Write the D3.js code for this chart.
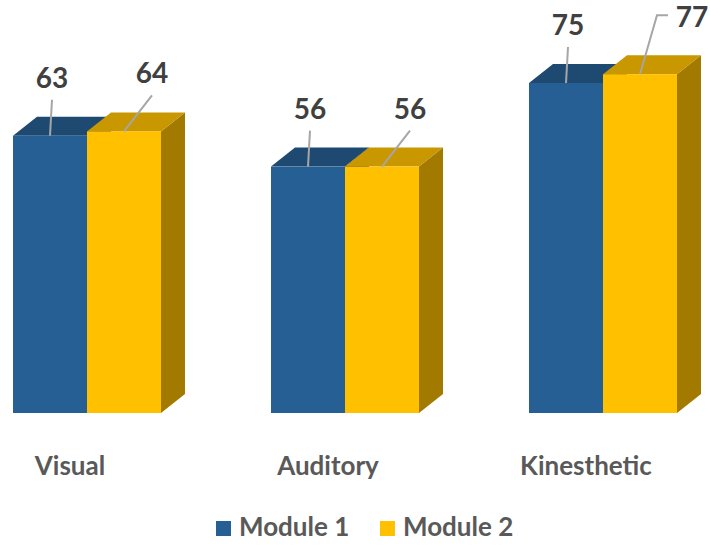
<!DOCTYPE html>
<html>
<head>
<meta charset="utf-8">
<script src="https://cdn.jsdelivr.net/npm/d3@7"></script>
<style>
  body { margin: 0; background: #fff; }
  text { font-family: Lato, "Liberation Sans", sans-serif; font-weight: 700; }
</style>
</head>
<body>
<svg id="chart" width="710" height="545"></svg>
<script>
var categories = ['Visual', 'Auditory', 'Kinesthetic'];
var series = ['Module 1', 'Module 2'];
var module1 = [63, 56, 75];
var module2 = [64, 56, 77];

var colors = {
  'Module 1': { front: '#255F93', top: '#1E4A72', side: '#1A4266' },
  'Module 2': { front: '#FFC000', top: '#C99700', side: '#A37A00' }
};
var depth = { dx: 24, dy: -19 };

var svg = d3.select('#chart');

var x0 = d3.scaleBand()
  .domain(categories)
  .range([13, 677])
  .paddingInner(0.4264)
  .paddingOuter(0);

var x1 = d3.scaleBand()
  .domain(series)
  .range([0, x0.bandwidth()]);

var y = d3.scaleLinear().domain([0, 100]).range([413, -27]);

var rows = categories.map(function(c, i) {
  return { cat: c, values: [
    { key: 'Module 1', value: module1[i] },
    { key: 'Module 2', value: module2[i] }
  ] };
});

var groups = svg.selectAll('g.group')
  .data(rows)
  .enter()
  .append('g')
  .attr('class', 'group')
  .attr('transform', d => 'translate(' + x0(d.cat) + ',0)');

var bars = groups.selectAll('g.bar')
  .data(d => d.values)
  .enter()
  .append('g')
  .attr('class', 'bar');

// side face
bars.append('path')
  .attr('fill', d => colors[d.key].side)
  .attr('d', function(d) {
    var xr = x1(d.key) + x1.bandwidth(), t = y(d.value), b = y(0);
    return 'M' + xr + ',' + t + 'L' + (xr + depth.dx) + ',' + (t + depth.dy) +
      'L' + (xr + depth.dx) + ',' + (b + depth.dy) + 'L' + xr + ',' + b + 'Z';
  });

// top face
bars.append('path')
  .attr('fill', d => colors[d.key].top)
  .attr('d', function(d) {
    var xl = x1(d.key), xr = xl + x1.bandwidth(), t = y(d.value);
    return 'M' + xl + ',' + t + 'L' + xr + ',' + t +
      'L' + (xr + depth.dx) + ',' + (t + depth.dy) +
      'L' + (xl + depth.dx) + ',' + (t + depth.dy) + 'Z';
  });

// front face
bars.append('rect')
  .attr('fill', d => colors[d.key].front)
  .attr('x', d => x1(d.key))
  .attr('y', d => y(d.value))
  .attr('width', x1.bandwidth())
  .attr('height', d => y(0) - y(d.value));

// data labels with leader lines
var labelOffset = { 'Module 1': { dx: 2, dy: -48 }, 'Module 2': { dx: 28, dy: -48 } };
var moved = { 'Kinesthetic|Module 2': { dx: 52, dy: -47 } };

rows.forEach(function(r) {
  r.values.forEach(function(v) {
    var cx = x0(r.cat) + x1(v.key) + x1.bandwidth() / 2;
    var t = y(v.value);
    var off = moved[r.cat + '|' + v.key] || labelOffset[v.key];
    var lx = cx + off.dx, ly = t + off.dy;
    var pts;
    if (moved[r.cat + '|' + v.key]) {
      pts = [[cx, t], [lx - 35, ly - 12], [lx - 24, ly - 12]];
    } else {
      pts = [[cx, t], [lx, ly + 12]];
    }
    svg.append('path')
      .attr('d', d3.line()(pts))
      .attr('fill', 'none')
      .attr('stroke', '#A6A6A6')
      .attr('stroke-width', 2);
    svg.append('text')
      .attr('x', lx)
      .attr('y', ly)
      .attr('text-anchor', 'middle')
      .attr('font-size', 28)
      .attr('fill', '#404040')
      .text(v.value);
  });
});

// category labels
svg.selectAll('text.cat')
  .data(categories)
  .enter()
  .append('text')
  .attr('class', 'cat')
  .attr('x', d => x0(d) + x0.bandwidth() / 2 - 17)
  .attr('y', 475)
  .attr('text-anchor', 'middle')
  .attr('font-size', 26)
  .attr('fill', '#595959')
  .text(d => d);

// legend
var legendX = [216, 380];
var legend = svg.selectAll('g.legend')
  .data(series)
  .enter()
  .append('g')
  .attr('class', 'legend')
  .attr('transform', (d, i) => 'translate(' + legendX[i] + ',521)');

legend.append('rect')
  .attr('width', 15)
  .attr('height', 15)
  .attr('fill', d => colors[d].front);

legend.append('text')
  .attr('x', 23)
  .attr('y', 15)
  .attr('font-size', 26)
  .attr('fill', '#595959')
  .text(d => d);
</script>
</body>
</html>
